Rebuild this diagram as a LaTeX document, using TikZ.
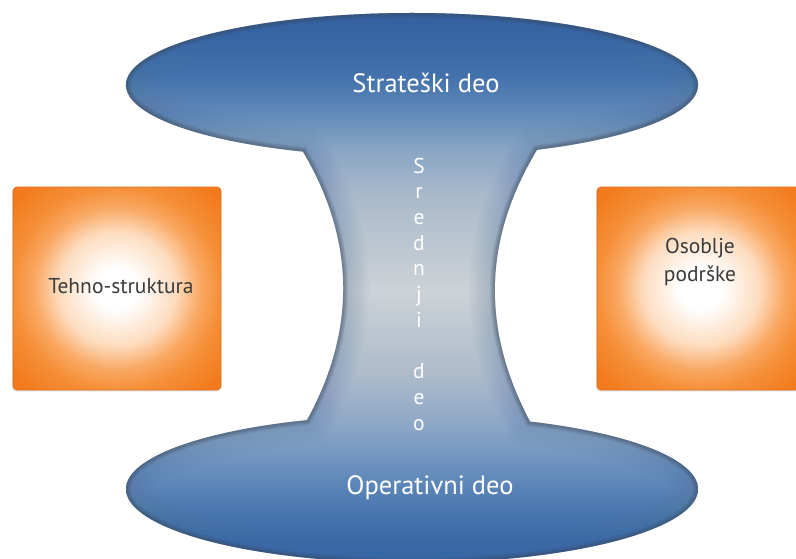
\documentclass[tikz,border=0pt]{standalone}
\usepackage{fontspec}
\setmainfont{PT Sans}
\usetikzlibrary{shadows}

\definecolor{bA}{HTML}{3463A2}
\definecolor{bB}{HTML}{3A69A6}
\definecolor{bC}{HTML}{4B78B0}
\definecolor{bD}{HTML}{6A90BD}
\definecolor{bE}{HTML}{8DA7C6}
\definecolor{bF}{HTML}{ADBBCB}
\definecolor{bG}{HTML}{CDD2D6}
\definecolor{bH}{HTML}{AABACB}
\definecolor{bI}{HTML}{89A4C4}
\definecolor{bJ}{HTML}{628BBA}
\definecolor{bK}{HTML}{4472AC}
\definecolor{bL}{HTML}{3564A3}
\definecolor{bM}{HTML}{2F5E9E}
\definecolor{rimblue}{HTML}{5A7BA6}
\definecolor{rimcol}{HTML}{3E4A58}
\definecolor{orA}{HTML}{F27A1C}
\definecolor{orB}{HTML}{F58F38}
\definecolor{orC}{HTML}{F9A862}
\definecolor{orD}{HTML}{FDDCBF}
\definecolor{boxedge}{HTML}{DC6E1E}
\definecolor{labelgray}{HTML}{3C3C3C}

\pgfdeclareverticalshading{ushade}{100bp}{%
color(0bp)=(bA); color(25bp)=(bA); color(28bp)=(bB); color(30.73bp)=(bC);
color(34.36bp)=(bD); color(38bp)=(bE); color(42.55bp)=(bF); color(49.82bp)=(bG);
color(58bp)=(bH); color(62.36bp)=(bI); color(65.27bp)=(bJ); color(68.45bp)=(bK);
color(72.55bp)=(bL); color(75bp)=(bM); color(100bp)=(bM)}

\pgfdeclareradialshading{boxshade}{\pgfpoint{0bp}{0bp}}{%
color(0bp)=(white); color(5bp)=(white); color(14bp)=(orD); color(20bp)=(orC);
color(25bp)=(orB); color(33bp)=(orA); color(50bp)=(orA)}

\begin{document}
\begin{tikzpicture}[x=1pt,y=-1pt,
  ushape/.style={insert path={(303,151.57) arc[start angle=112.40, end angle=424.08, x radius=286, y radius=72]
     .. controls (482,241) and (482,331) .. (530,421.59)
     arc[start angle=-65.63, end angle=248.46, x radius=286, y radius=74]
     .. controls (356,331) and (356,241) .. (303,151.57) -- cycle}},
  orangebox/.style={shape=rectangle, rounded corners=4pt, shade, shading=boxshade,
     draw=boxedge, line width=0.7pt, minimum width=208pt, minimum height=203pt, inner sep=0pt,
     drop shadow={opacity=0.18, shadow xshift=-1pt, shadow yshift=-1.5pt}},
  boxlabel/.style={text=labelgray, font=\fontsize{21.5}{28.3}\selectfont, align=center, anchor=base, inner sep=0pt},
  bluelabel/.style={text=white, font=\fontsize{26.5}{32}\selectfont, anchor=base, inner sep=0pt},
  necklabel/.style={text=white, font=\fontsize{21.5}{26}\selectfont, anchor=base, inner sep=0pt}
]
\useasboundingbox (0,0) rectangle (796,558);
\clip (0,0) rectangle (796,558);

% orange boxes
\node[orangebox] (tehnobox) at (117,288.5) {};
\node[orangebox] (osobljebox) at (701,288.5) {};
\node[boxlabel] (tehno) at (121,293) {Tehno-struktura};
\node[boxlabel] (osoblje) at (700,281.7) {Osoblje\\podrške};

% blue hourglass shape
\shade[shading=ushade, ushape];
\begin{scope}
  \clip[ushape];
  \foreach \w in {4,8,...,52}
    \draw[rimblue, line width=\w pt, opacity=0.026, ushape];
  \foreach \w in {1,2,...,10}
    \draw[rimcol, line width=\w pt, opacity=0.06, ushape];
\end{scope}

% labels in the blue shape
\node[bluelabel] (strat) at (426,92) {Strateški deo};
\node[bluelabel] (oper) at (430,494) {Operativni deo};
\foreach \k/\ch in {1/S,2/r,3/e,4/d,5/n,6/j,7/i,9/d,10/e,11/o}
  \node[necklabel] (mid\k) at (419,{173+(\k-1)*25.7}) {\ch};
\end{tikzpicture}
\end{document}
